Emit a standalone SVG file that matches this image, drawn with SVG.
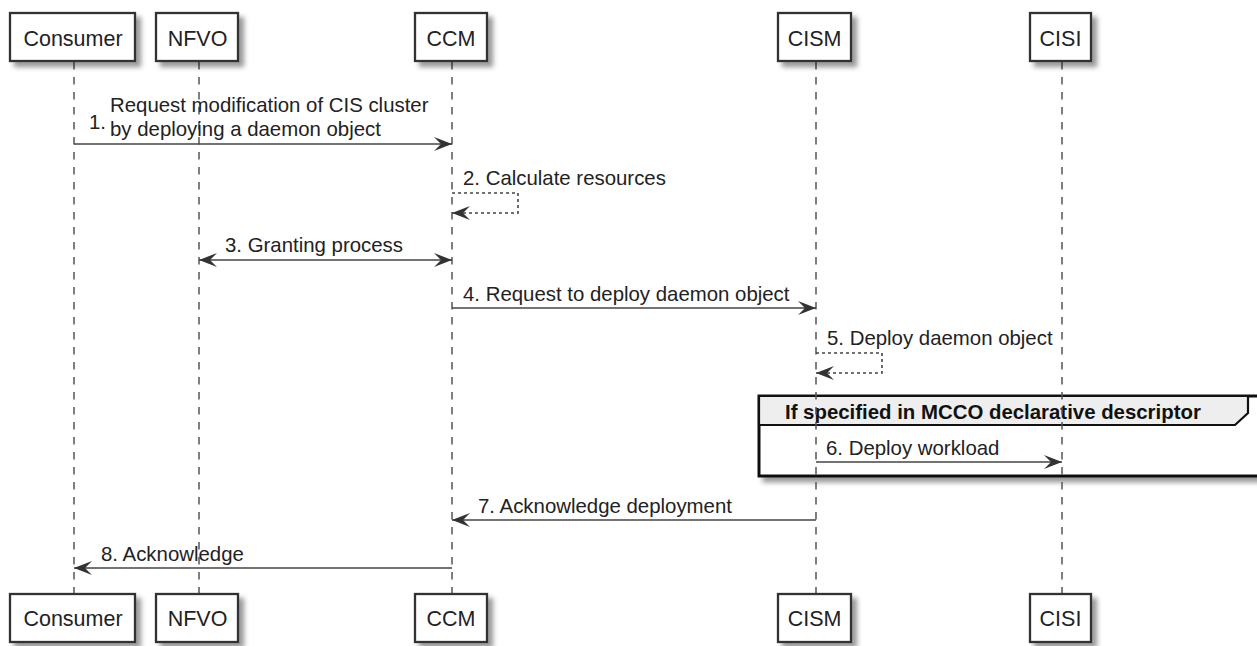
<svg xmlns="http://www.w3.org/2000/svg" width="1257" height="646" viewBox="0 0 1257 646">
<defs>
<filter id="sh" x="-20%" y="-20%" width="150%" height="160%">
<feDropShadow dx="5" dy="5" stdDeviation="2.5" flood-color="#000" flood-opacity="0.4"/>
</filter>
<marker id="ah" viewBox="0 0 18 14" refX="18" refY="7" markerWidth="18" markerHeight="14" markerUnits="userSpaceOnUse" orient="auto-start-reverse">
<path d="M0,0 L18,7 L0,14 L7,7 Z" fill="#333"/>
</marker>
</defs>
<style>
.box{fill:#fff;stroke:#333;stroke-width:2.3;filter:url(#sh)}
.pt{font-family:"Liberation Sans",Arial,sans-serif;font-size:21.5px;fill:#222;text-anchor:middle}
.life{stroke:#555;stroke-width:1.5;stroke-dasharray:7.5,7.5;fill:none}
.msg{stroke:#444;stroke-width:1.7;fill:none}
.self{stroke:#444;stroke-width:1.6;fill:none;stroke-dasharray:3,3}
.mt{font-family:"Liberation Sans",Arial,sans-serif;font-size:20.4px;fill:#222}
.gt{font-family:"Liberation Sans",Arial,sans-serif;font-size:20.4px;font-weight:bold;fill:#111}
</style>
<rect x="0" y="0" width="1257" height="646" fill="#fff"/>

<g id="frame">
<rect x="759" y="396" width="520" height="80" fill="#fff" stroke="#111" stroke-width="3" filter="url(#sh)"/>
<path d="M759,396 L1248,396 L1248,413 L1235,425 L759,425 Z" fill="#eee" stroke="#111" stroke-width="2.2"/>
<text class="gt" x="785" y="419">If specified in MCCO declarative descriptor</text>
</g>

<g id="lifelines">
<line class="life" x1="74" y1="62" x2="74" y2="593"/>
<line class="life" x1="199" y1="62" x2="199" y2="593"/>
<line class="life" x1="452" y1="62" x2="452" y2="593"/>
<line class="life" x1="816" y1="62" x2="816" y2="593"/>
<line class="life" x1="1062" y1="62" x2="1062" y2="593"/>
</g>

<g id="p-consumer">
<rect class="box" x="10" y="13" width="125" height="48"/>
<text class="pt" x="73" y="45.5">Consumer</text>
<rect class="box" x="10" y="594" width="125" height="48"/>
<text class="pt" x="73" y="626">Consumer</text>
</g>
<g id="p-nfvo">
<rect class="box" x="156" y="13" width="82" height="48"/>
<text class="pt" x="197.5" y="45.5">NFVO</text>
<rect class="box" x="156" y="594" width="82" height="48"/>
<text class="pt" x="197.5" y="626">NFVO</text>
</g>
<g id="p-ccm">
<rect class="box" x="415" y="13" width="72" height="48"/>
<text class="pt" x="451" y="45.5">CCM</text>
<rect class="box" x="415" y="594" width="72" height="48"/>
<text class="pt" x="451" y="626">CCM</text>
</g>
<g id="p-cism">
<rect class="box" x="778" y="13" width="73" height="48"/>
<text class="pt" x="814.5" y="45.5">CISM</text>
<rect class="box" x="778" y="594" width="73" height="48"/>
<text class="pt" x="814.5" y="626">CISM</text>
</g>
<g id="p-cisi">
<rect class="box" x="1030" y="13" width="61" height="48"/>
<text class="pt" x="1060.5" y="45.5">CISI</text>
<rect class="box" x="1030" y="594" width="61" height="48"/>
<text class="pt" x="1060.5" y="626">CISI</text>
</g>

<g id="connectors">
<line class="msg" x1="74" y1="144" x2="452" y2="144" marker-end="url(#ah)"/>
<path class="self" d="M452,193 L518,193 L518,213 L452,213" marker-end="url(#ah)"/>
<line class="msg" x1="199" y1="260" x2="452" y2="260" marker-start="url(#ah)" marker-end="url(#ah)"/>
<line class="msg" x1="452" y1="308" x2="816" y2="308" marker-end="url(#ah)"/>
<path class="self" d="M816,353 L882,353 L882,373 L816,373" marker-end="url(#ah)"/>
<line class="msg" x1="816" y1="462" x2="1062" y2="462" marker-end="url(#ah)"/>
<line class="msg" x1="816" y1="520" x2="452" y2="520" marker-end="url(#ah)"/>
<line class="msg" x1="452" y1="568" x2="74" y2="568" marker-end="url(#ah)"/>
</g>

<g id="labels">
<text class="mt" x="89" y="129">1.</text>
<text class="mt" x="110" y="112">Request modification of CIS cluster</text>
<text class="mt" x="110" y="136">by deploying a daemon object</text>
<text class="mt" x="463" y="185">2. Calculate resources</text>
<text class="mt" x="225" y="252">3. Granting process</text>
<text class="mt" x="463" y="301">4. Request to deploy daemon object</text>
<text class="mt" x="827" y="345">5. Deploy daemon object</text>
<text class="mt" x="826" y="455">6. Deploy workload</text>
<text class="mt" x="478" y="513">7. Acknowledge deployment</text>
<text class="mt" x="101" y="561">8. Acknowledge</text>
</g>
</svg>
